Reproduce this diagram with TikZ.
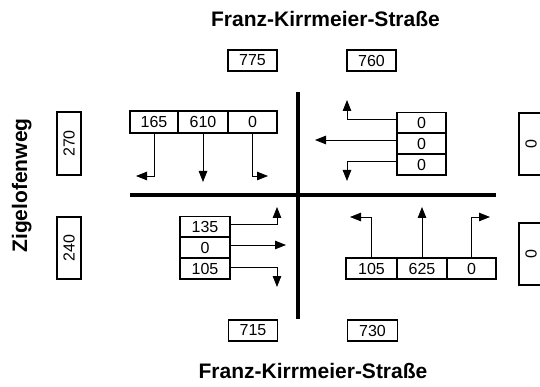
\documentclass[tikz,border=0pt]{standalone}
\usepackage{fontspec}
\setmainfont{Liberation Sans}
\usetikzlibrary{arrows.meta}

\tikzset{
  title/.style={font=\fontsize{21}{25}\selectfont\bfseries, inner sep=0pt},
  cell/.style={draw, line width=1.8pt, inner sep=0pt, minimum height=21pt,
    font=\fontsize{16}{19}\selectfont},
  sidebox/.style={cell, rotate=90, minimum height=24pt},
  road/.style={line width=3.3pt},
  flow/.style={line width=0.8pt, -{Triangle[length=11pt,width=8.5pt]}},
}

\begin{document}
\begin{tikzpicture}[x=1pt, y=-1pt]
\useasboundingbox (0,0) rectangle (540,387);

% street names
\node[title, anchor=base] (tnorth) at (325.5,27) {Franz-Kirrmeier-Straße};
\node[title, anchor=base] (tsouth) at (313,378) {Franz-Kirrmeier-Straße};
\node[title, anchor=base, rotate=90] (twest) at (27,185.5) {Zigelofenweg};

% roads
\draw[road] (130,195) -- (496,195);
\draw[road] (298,92) -- (298,319);

% cross-section counts
\node[cell, minimum width=49pt] (n775) at (252.5,60.5) {775};
\node[cell, minimum width=49pt] (n760) at (371.5,60.5) {760};
\node[cell, minimum width=49pt] (n715) at (253,330.5) {715};
\node[cell, minimum width=50pt] (n730) at (372.5,330.5) {730};
\node[sidebox, minimum width=63pt] (n270) at (69,143.5) {270};
\node[sidebox, minimum width=62pt] (n240) at (69,248) {240};
\node[sidebox, minimum width=62pt] (e1) at (531,144) {0};
\node[sidebox, minimum width=62pt] (e2) at (531,254) {0};

% north approach (southbound)
\node[cell, minimum width=48pt, minimum height=22pt] (tl1) at (154,122) {165};
\node[cell, minimum width=50pt, minimum height=22pt] (tl2) at (203,122) {610};
\node[cell, minimum width=49pt, minimum height=22pt] (tl3) at (252.5,122) {0};
\coordinate (tl1e) at (136,176);
\coordinate (tl2e) at (203,182);
\coordinate (tl3e) at (268,176);
\draw[flow] (tl1.south) |- (tl1e);
\draw[flow] (tl2.south) -- (tl2.south |- tl2e);
\draw[flow] (tl3.south) |- (tl3e);

% east approach (westbound)
\node[cell, minimum width=49pt] (tr1) at (421.5,123) {0};
\node[cell, minimum width=49pt] (tr2) at (421.5,143.5) {0};
\node[cell, minimum width=49pt] (tr3) at (421.5,164.5) {0};
\coordinate (tr1e) at (347,100);
\coordinate (tr2e) at (315,140);
\coordinate (tr3e) at (347,181);
\draw[flow] ([yshift=4pt]tr1.west) -| (tr1e);
\draw[flow] ([yshift=3.5pt]tr2.west) -- ([yshift=3.5pt]tr2.west -| tr2e);
\draw[flow] ([yshift=3.5pt]tr3.west) -| (tr3e);

% west approach (eastbound)
\node[cell, minimum width=50pt] (bl1) at (205,227) {135};
\node[cell, minimum width=50pt] (bl2) at (205,247.5) {0};
\node[cell, minimum width=50pt] (bl3) at (205,268.5) {105};
\coordinate (bl1e) at (277,207);
\coordinate (bl2e) at (286,245);
\coordinate (bl3e) at (277,287);
\draw[flow] ([yshift=3pt]bl1.east) -| (bl1e);
\draw[flow] ([yshift=2.5pt]bl2.east) -- ([yshift=2.5pt]bl2.east -| bl2e);
\draw[flow] ([yshift=1.5pt]bl3.east) -| (bl3e);

% south approach (northbound)
\node[cell, minimum width=51pt] (br1) at (371.5,268.5) {105};
\node[cell, minimum width=50pt] (br2) at (422,268.5) {625};
\node[cell, minimum width=49pt] (br3) at (471.5,268.5) {0};
\coordinate (br1e) at (350,217);
\coordinate (br2e) at (422,207);
\coordinate (br3e) at (490,217);
\draw[flow] (br1.north) |- (br1e);
\draw[flow] (br2.north) -- (br2.north |- br2e);
\draw[flow] (br3.north) |- (br3e);
\end{tikzpicture}
\end{document}
